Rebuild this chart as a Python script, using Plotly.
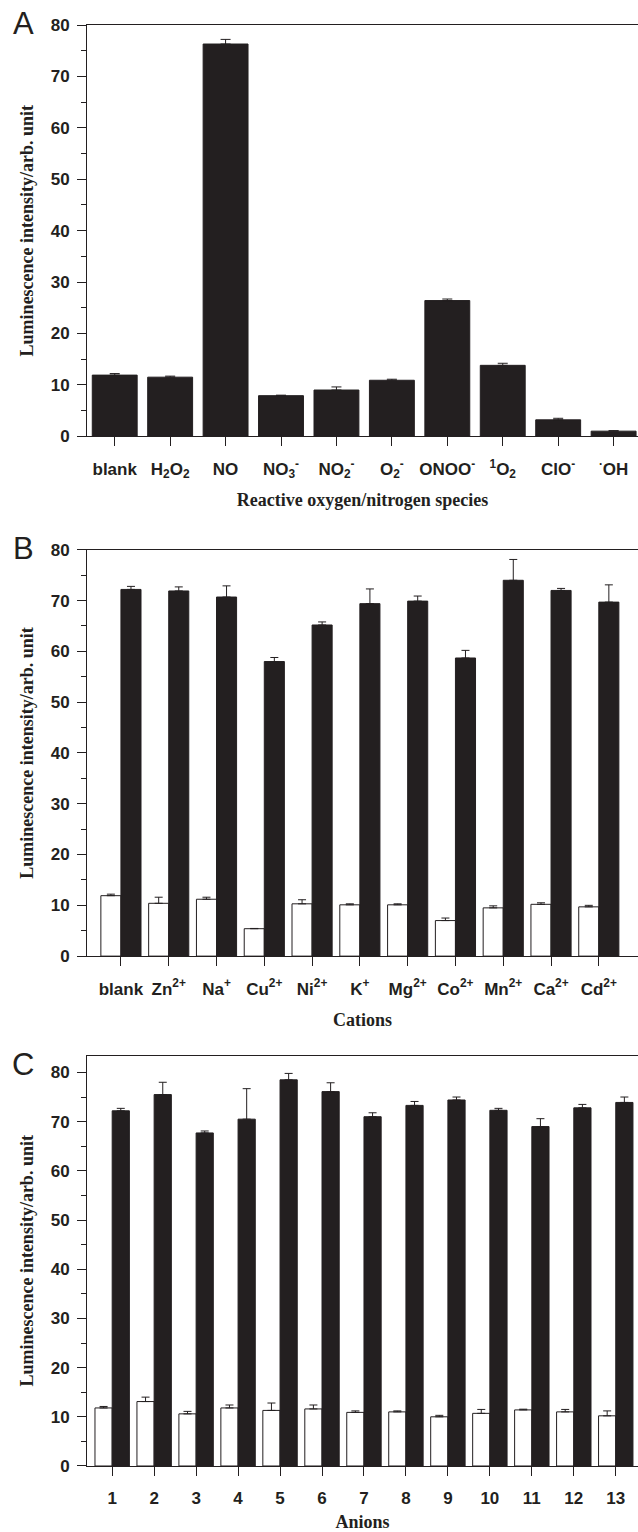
import plotly.graph_objects as go

# ---------------- data ----------------
ros_labels = ["blank", "H<sub>2</sub>O<sub>2</sub>", "NO", "NO<sub>3</sub><sup>-</sup>",
              "NO<sub>2</sub><sup>-</sup>", "O<sub>2</sub><sup>-</sup>", "ONOO<sup>-</sup>",
              "<sup>1</sup>O<sub>2</sub>", "ClO<sup>-</sup>", "<sup>·</sup>OH"]
ros_values = [11.9, 11.5, 76.3, 7.9, 9.0, 10.9, 26.4, 13.8, 3.2, 1.0]
ros_err = [0.3, 0.2, 0.9, 0.1, 0.6, 0.2, 0.3, 0.4, 0.3, 0.1]

cation_labels = ["blank", "Zn<sup>2+</sup>", "Na<sup>+</sup>", "Cu<sup>2+</sup>", "Ni<sup>2+</sup>",
                 "K<sup>+</sup>", "Mg<sup>2+</sup>", "Co<sup>2+</sup>", "Mn<sup>2+</sup>",
                 "Ca<sup>2+</sup>", "Cd<sup>2+</sup>"]
cation_before = [11.9, 10.4, 11.2, 5.4, 10.3, 10.1, 10.1, 7.0, 9.5, 10.2, 9.7]
cation_before_err = [0.3, 1.2, 0.4, 0.05, 0.8, 0.2, 0.2, 0.5, 0.4, 0.3, 0.3]
cation_after = [72.2, 71.9, 70.7, 58.0, 65.2, 69.4, 69.9, 58.7, 74.0, 72.0, 69.7]
cation_after_err = [0.6, 0.8, 2.2, 0.8, 0.6, 2.9, 1.0, 1.5, 4.1, 0.4, 3.4]

anion_labels = [str(i) for i in range(1, 14)]
anion_before = [11.8, 13.1, 10.6, 11.8, 11.3, 11.6, 10.9, 11.0, 10.0, 10.7, 11.4, 11.0, 10.2]
anion_before_err = [0.3, 0.9, 0.5, 0.6, 1.5, 0.8, 0.3, 0.2, 0.3, 0.8, 0.15, 0.5, 1.0]
anion_after = [72.2, 75.5, 67.7, 70.5, 78.5, 76.1, 71.0, 73.3, 74.4, 72.3, 69.0, 72.8, 73.9]
anion_after_err = [0.5, 2.5, 0.4, 6.2, 1.3, 1.8, 0.8, 0.8, 0.6, 0.4, 1.6, 0.7, 1.1]

# ---------------- style ----------------
INK = "#231f20"
W, H = 638, 1532
ML, MR, MT, MB = 87, 0, 25, 60
PH = H - MT - MB
PW = W - ML - MR


def py(px):
    """pixel row -> paper y"""
    return (H - MB - px) / PH


def pxx(px):
    return (px - ML) / PW


tick_font = dict(family="Liberation Sans", size=17, color=INK, weight="bold")
title_font = dict(family="Liberation Serif", size=18, color=INK, weight="bold")

fig = go.Figure()


def err(vals, cw):
    return dict(type="data", array=vals, arrayminus=[0] * len(vals), symmetric=False,
                color=INK, thickness=1, width=cw)


# Panel A
xa = list(range(len(ros_labels)))
fig.add_trace(go.Bar(x=xa, y=ros_values, width=0.81, marker=dict(color=INK, line=dict(color=INK, width=1)),
                     error_y=err(ros_err, 5), xaxis="x", yaxis="y", showlegend=False))

# Panel B
xb = list(range(len(cation_labels)))
fig.add_trace(go.Bar(x=xb, y=cation_before, width=0.42, offset=-0.42,
                     marker=dict(color="white", line=dict(color=INK, width=1)),
                     error_y=err(cation_before_err, 4), xaxis="x2", yaxis="y2", showlegend=False))
fig.add_trace(go.Bar(x=xb, y=cation_after, width=0.42, offset=0,
                     marker=dict(color=INK, line=dict(color=INK, width=1)),
                     error_y=err(cation_after_err, 4), xaxis="x2", yaxis="y2", showlegend=False))

# Panel C
xc = list(range(1, len(anion_labels) + 1))
fig.add_trace(go.Bar(x=xc, y=anion_before, width=0.41, offset=-0.41,
                     marker=dict(color="white", line=dict(color=INK, width=1)),
                     error_y=err(anion_before_err, 4), xaxis="x3", yaxis="y3", showlegend=False))
fig.add_trace(go.Bar(x=xc, y=anion_after, width=0.41, offset=0,
                     marker=dict(color=INK, line=dict(color=INK, width=1)),
                     error_y=err(anion_after_err, 4), xaxis="x3", yaxis="y3", showlegend=False))


def xax(rng, tv, tt, anchor, title, standoff):
    return dict(range=rng, tickvals=tv, ticktext=tt, anchor=anchor, domain=[0, 1],
                showline=True, linecolor=INK, linewidth=1, mirror=True,
                ticks="outside", ticklen=9, tickwidth=1, tickcolor=INK,
                tickfont=tick_font, showgrid=False, zeroline=False,
                ticklabelstandoff=8,
                title=dict(text=title, font=title_font, standoff=standoff))


def yax(rng, dom, anchor):
    return dict(range=rng, domain=dom, anchor=anchor, dtick=10, tick0=0,
                showline=True, linecolor=INK, linewidth=1,
                ticks="outside", ticklen=9, tickwidth=1, tickcolor=INK,
                minor=dict(dtick=5, ticks="outside", ticklen=5, tickcolor=INK, tickwidth=1),
                tickfont=tick_font, showgrid=False, zeroline=False,
                ticklabelstandoff=4,
                title=dict(text="Luminescence intensity/arb. unit", font=title_font, standoff=12))


fig.update_layout(
    width=W, height=H, margin=dict(l=ML, r=MR, t=MT, b=MB),
    paper_bgcolor="white", plot_bgcolor="white", barmode="overlay",
    xaxis=xax([-0.5, 9.44], xa, ros_labels, "y", "Reactive oxygen/nitrogen species", 13),
    yaxis=yax([0, 80], [py(438), py(25)], "x"),
    xaxis2=xax([-0.71, 10.82], xb, cation_labels, "y2", "Cations", 15),
    yaxis2=yax([0, 80], [py(960), py(552)], "x2"),
    xaxis3=xax([0.4, 13.53], xc, anion_labels, "y3", "Anions", 11),
    yaxis3=yax([0, 83.4], [py(1472), py(1060)], "x3"),
    annotations=[
        dict(text=t, x=pxx(23), y=py(yc), xref="paper", yref="paper", showarrow=False,
             xanchor="center", yanchor="middle",
             font=dict(family="Liberation Sans", size=31, color=INK))
        for t, yc in (("A", 23), ("B", 551), ("C", 1069))
    ],
)

fig.write_html(
    "out.html",
    config={"displayModeBar": False},
    post_script="document.body.style.margin='0';document.body.style.padding='0';"
                "document.body.style.overflow='hidden';",
)
